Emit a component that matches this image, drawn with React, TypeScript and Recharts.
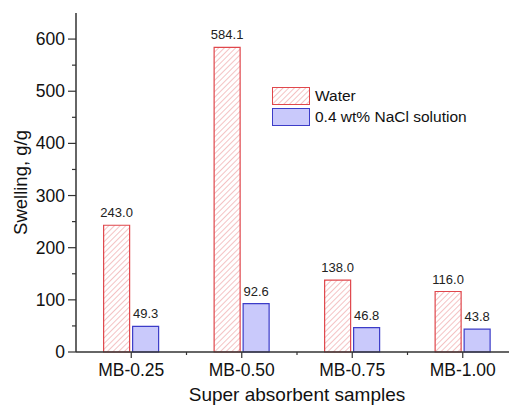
import { Bar, BarChart, LabelList, XAxis, YAxis, Label } from 'recharts';

const samples = ['MB-0.25', 'MB-0.50', 'MB-0.75', 'MB-1.00'];
const water = [243.0, 584.1, 138.0, 116.0];
const nacl = [49.3, 92.6, 46.8, 43.8];
const yTicks = [0, 50, 100, 150, 200, 250, 300, 350, 400, 450, 500, 550, 600];
const seriesNames = ['Water', '0.4 wt% NaCl solution'];

const data = samples.map((s, i) => ({ name: s, water: water[i], nacl: nacl[i] }));

const FONT = 'Arial, "Liberation Sans", sans-serif';
const RED = '#e0474c';
const HATCH = '#e67a7d';
const BLUE = '#3c3cc8';
const BLUE_FILL = '#c9c9fb';
const HALF_BAND = 55.25;

function YTick({ x, y, payload }: any) {
  const major = payload.value % 100 === 0;
  return (
    <g>
      <line x1={x} x2={x - (major ? 8 : 4)} y1={y} y2={y} stroke="#333" strokeWidth={1.2} />
      {major && (
        <text x={x - 11} y={y} textAnchor="end" dominantBaseline="central" fontSize={17.5} fontFamily={FONT} fill="#111">
          {payload.value}
        </text>
      )}
    </g>
  );
}

function XTick({ x, y, payload }: any) {
  return (
    <g>
      <line x1={x} x2={x} y1={y} y2={y + 6} stroke="#333" strokeWidth={1.2} />
      <line x1={x + HALF_BAND} x2={x + HALF_BAND} y1={y} y2={y + 3} stroke="#333" strokeWidth={1.2} />
      <text x={x} y={y + 24} textAnchor="middle" fontSize={17.5} fontFamily={FONT} fill="#111">
        {payload.value}
      </text>
    </g>
  );
}

function HatchDef({ id }: { id: string }) {
  return (
    <pattern id={id} width={4} height={4} patternUnits="userSpaceOnUse" patternTransform="rotate(45)">
      <line x1={0} y1={0} x2={0} y2={4} stroke={HATCH} strokeWidth={0.9} />
    </pattern>
  );
}

function Swatch({ kind }: { kind: number }) {
  return (
    <svg width={38} height={18} style={{ display: 'block' }}>
      <defs>
        <HatchDef id="hatchLegend" />
      </defs>
      <rect
        x={0.5}
        y={0.5}
        width={37}
        height={17}
        fill={kind === 0 ? 'url(#hatchLegend)' : BLUE_FILL}
        stroke={kind === 0 ? RED : BLUE}
        strokeWidth={1}
      />
    </svg>
  );
}

function LegendBox() {
  return (
    <div style={{ position: 'absolute', left: 272, top: 86, fontFamily: FONT, fontSize: 15.5, color: '#111' }}>
      {seriesNames.map((label, i) => (
        <div key={label} style={{ display: 'flex', alignItems: 'center', height: 20.5 }}>
          <Swatch kind={i} />
          <span style={{ marginLeft: 5 }}>{label}</span>
        </div>
      ))}
    </div>
  );
}

export default function App() {
  return (
    <div style={{ position: 'absolute', left: 0, top: 0, width: 509, height: 407, background: '#fff' }}>
      <BarChart
        width={509}
        height={407}
        data={data}
        margin={{ top: 13, right: -9, left: 0, bottom: 0 }}
        barCategoryGap="25%"
        barGap={3}
      >
        <defs>
          <HatchDef id="hatch" />
        </defs>
        <XAxis
          dataKey="name"
          height={55}
          tickSize={0}
          tickMargin={0}
          tick={<XTick />}
          axisLine={{ stroke: '#333', strokeWidth: 1.5 }}
          interval={0}
        >
          <Label
            content={() => (
              <text x={297} y={401} textAnchor="middle" fontSize={19} fontFamily={FONT} fill="#111">
                Super absorbent samples
              </text>
            )}
          />
        </XAxis>
        <XAxis xAxisId="top" orientation="top" dataKey="name" height={0} tick={false} tickLine={false} axisLine={{ stroke: '#333', strokeWidth: 1.5 }} />
        <YAxis
          width={76}
          domain={[0, 650]}
          ticks={yTicks}
          interval={0}
          tickSize={0}
          tickMargin={0}
          tick={<YTick />}
          axisLine={{ stroke: '#333', strokeWidth: 1.5 }}
        >
          <Label
            content={() => (
              <text transform="translate(27,182.5) rotate(-90)" textAnchor="middle" fontSize={18.5} fontFamily={FONT} fill="#111">
                Swelling, g/g
              </text>
            )}
          />
        </YAxis>
        <Bar dataKey="water" name={seriesNames[0]} fill="url(#hatch)" stroke={RED} strokeWidth={1.2} isAnimationActive={false}>
          <LabelList dataKey="water" position="top" offset={8} fontSize={13} fontFamily={FONT} fill="#222" formatter={(v: any) => Number(v).toFixed(1)} />
        </Bar>
        <Bar dataKey="nacl" name={seriesNames[1]} fill={BLUE_FILL} stroke={BLUE} strokeWidth={1.2} isAnimationActive={false}>
          <LabelList dataKey="nacl" position="top" offset={8} fontSize={13} fontFamily={FONT} fill="#222" formatter={(v: any) => Number(v).toFixed(1)} />
        </Bar>
      </BarChart>
      <LegendBox />
    </div>
  );
}
